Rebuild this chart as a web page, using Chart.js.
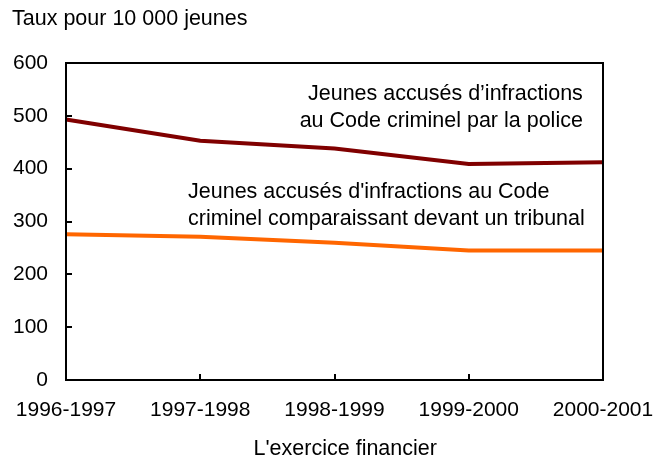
<!DOCTYPE html>
<html>
<head>
<meta charset="utf-8">
<script src="https://cdn.jsdelivr.net/npm/chart.js@4"></script>
<style>
  html, body { margin: 0; padding: 0; background: #ffffff; }
  #wrap { width: 665px; height: 460px; }
</style>
</head>
<body>
<div id="wrap"><canvas id="c" width="665" height="460"></canvas></div>
<script>
const categories = ["1996-1997", "1997-1998", "1998-1999", "1999-2000", "2000-2001"];
const policeValues = [493, 453, 438, 409, 412];
const courtValues = [276, 271, 260, 245, 245];
const yTicks = [0, 100, 200, 300, 400, 500, 600];
const policeLabel = ["Jeunes accusés d\u2019infractions", "au Code criminel par la police"];
const courtLabel = ["Jeunes accusés d'infractions au Code", "criminel comparaissant devant un tribunal"];
const xAxisTitle = "L'exercice financier";
const chartTitle = "Taux pour 10 000 jeunes";

const FONT = "'Liberation Sans', Arial, sans-serif";
const FS = 21;
const FS_TEXT = 21.5;

const framePlugin = {
  id: 'frame',
  afterDatasetsDraw(chart) {
    const ctx = chart.ctx;
    const a = chart.chartArea;
    const xs = chart.scales.x, ys = chart.scales.y;
    ctx.save();
    ctx.strokeStyle = '#000';
    ctx.lineWidth = 2;
    ctx.strokeRect(a.left, a.top, a.right - a.left, a.bottom - a.top);
    ctx.beginPath();
    ys.ticks.forEach((t, i) => {
      const y = Math.round(ys.getPixelForTick(i));
      ctx.moveTo(a.left, y); ctx.lineTo(a.left + 6, y);
    });
    xs.ticks.forEach((t, i) => {
      const x = Math.round(xs.getPixelForTick(i));
      ctx.moveTo(x, a.bottom); ctx.lineTo(x, a.bottom - 6);
    });
    ctx.stroke();
    ctx.restore();
  }
};

const notesPlugin = {
  id: 'notes',
  afterDatasetsDraw(chart, args, opts) {
    const ctx = chart.ctx;
    const xs = chart.scales.x, ys = chart.scales.y;
    ctx.save();
    ctx.fillStyle = '#000';
    ctx.font = FS_TEXT + 'px ' + FONT;
    ctx.textBaseline = 'middle';
    opts.items.forEach(item => {
      ctx.textAlign = item.align;
      const x = xs.getPixelForValue(item.x);
      const y0 = item.belowAxis !== undefined ? chart.chartArea.bottom + item.belowAxis : ys.getPixelForValue(item.y);
      item.lines.forEach((line, i) => {
        ctx.fillText(line, x, y0 + i * 27);
      });
    });
    ctx.restore();
  }
};

new Chart(document.getElementById('c'), {
  type: 'line',
  data: {
    labels: categories,
    datasets: [
      { data: policeValues, borderColor: '#800000', borderWidth: 4, pointRadius: 0, tension: 0, fill: false },
      { data: courtValues, borderColor: '#FF6600', borderWidth: 4, pointRadius: 0, tension: 0, fill: false }
    ]
  },
  options: {
    responsive: false,
    animation: false,
    events: [],
    layout: { padding: { left: 12, right: 62, top: 6, bottom: 0 } },
    plugins: {
      legend: { display: false },
      tooltip: { enabled: false },
      title: {
        display: true,
        text: chartTitle,
        align: 'start',
        color: '#000',
        font: { family: FONT, size: FS_TEXT, weight: 'normal' },
        padding: { top: 0, bottom: 31.2 }
      },
      notes: {
        items: [
          { lines: policeLabel, x: 3.85, y: 541, align: 'right' },
          { lines: courtLabel, x: 0.909, y: 356, align: 'left' },
          { lines: [xAxisTitle], x: 2.08, belowAxis: 69.5, align: 'center' }
        ]
      }
    },
    scales: {
      x: {
        type: 'category',
        offset: false,
        grid: { display: false, drawTicks: false },
        border: { display: false },
        ticks: { color: '#000', font: { family: FONT, size: FS }, maxRotation: 0, autoSkip: false, padding: 18 },
        afterFit(scale) { scale.paddingLeft = 0; scale.paddingRight = 0; scale.height = 80; }
      },
      y: {
        min: 0, max: 600,
        afterBuildTicks(scale) { scale.ticks = yTicks.map(v => ({ value: v })); },
        grid: { display: false, drawTicks: false },
        border: { display: false },
        ticks: { color: '#000', font: { family: FONT, size: FS }, padding: 18 },
        afterFit(scale) { scale.width = 54; scale.paddingTop = 0; scale.paddingBottom = 0; }
      }
    }
  },
  plugins: [framePlugin, notesPlugin]
});
</script>
</body>
</html>
